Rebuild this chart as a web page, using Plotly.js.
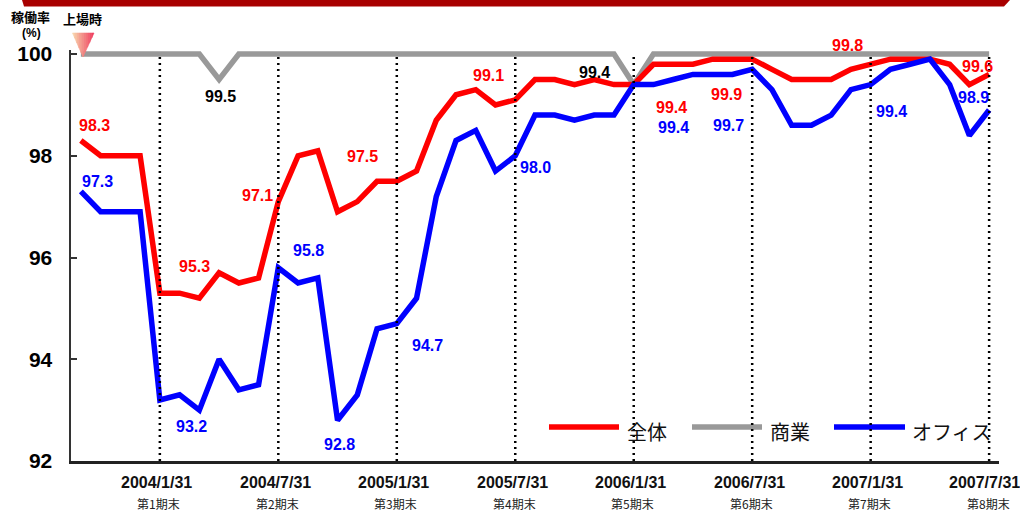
<!DOCTYPE html>
<html><head><meta charset="utf-8">
<script src="https://cdn.plot.ly/plotly-3.0.1.min.js"></script>
<style>html,body{margin:0;padding:0;background:#fff;} #chart{width:1020px;height:512px;}</style>
</head><body><div id="chart"></div>
<script>
// ---------- data ----------
const seriesNames = ['全体', '商業', 'オフィス'];
const totalRate = [98.3, 98.0, 98.0, 98.0, 95.3, 95.3, 95.2, 95.7, 95.5, 95.6,
  97.1, 98.0, 98.1, 96.9, 97.1, 97.5, 97.5, 97.7, 98.7, 99.2,
  99.3, 99.0, 99.1, 99.5, 99.5, 99.4, 99.5, 99.4, 99.4, 99.8,
  99.8, 99.8, 99.9, 99.9, 99.9, 99.7, 99.5, 99.5, 99.5, 99.7,
  99.8, 99.9, 99.9, 99.9, 99.8, 99.4, 99.6];
const retailRate = [100, 100, 100, 100, 100, 100, 100, 99.5, 100, 100,
  100, 100, 100, 100, 100, 100, 100, 100, 100, 100,
  100, 100, 100, 100, 100, 100, 100, 100, 99.4, 100,
  100, 100, 100, 100, 100, 100, 100, 100, 100, 100,
  100, 100, 100, 100, 100, 100, 100];
const officeRate = [97.3, 96.9, 96.9, 96.9, 93.2, 93.3, 93.0, 94.0, 93.4, 93.5,
  95.8, 95.5, 95.6, 92.8, 93.3, 94.6, 94.7, 95.2, 97.2, 98.3,
  98.5, 97.7, 98.0, 98.8, 98.8, 98.7, 98.8, 98.8, 99.4, 99.4,
  99.5, 99.6, 99.6, 99.6, 99.7, 99.3, 98.6, 98.6, 98.8, 99.3,
  99.4, 99.7, 99.8, 99.9, 99.4, 98.4, 98.9];
const monthIndex = totalRate.map((_, i) => i);
const periodTickIndex = [4, 10, 16, 22, 28, 34, 40, 46];
const periodDates = ['2004/1/31', '2004/7/31', '2005/1/31', '2005/7/31', '2006/1/31', '2006/7/31', '2007/1/31', '2007/7/31'];
const periodNames = ['第1期末', '第2期末', '第3期末', '第4期末', '第5期末', '第6期末', '第7期末', '第8期末'];
const yTicks = [92, 94, 96, 98, 100];
const totalLabelIdx = [0, 4, 10, 16, 22, 28, 34, 40, 46];
const retailLabelIdx = [7, 28];
const officeLabelIdx = [0, 4, 10, 13, 16, 22, 28, 34, 40, 46];

// ---------- styles / positions ----------
const colors = {total: '#ff0000', retail: '#999999', office: '#0000ff'};
const labelColors = {total: '#ff0000', retail: '#000000', office: '#0000ff'};
const labelOffsets = {
  total: {0: [14, 15], 4: [35, 27], 10: [-21, 6], 16: [-34, 25], 22: [-27, 24], 28: [38, -23], 34: [-26, -35], 40: [-23, 19], 46: [-12, 8]},
  retail: {7: [1, -17], 28: [-39, 12]},
  office: {0: [17, 10], 4: [32, -27], 10: [30, 17], 13: [2, -24], 16: [31, -22], 22: [20, -12], 28: [40, -43], 34: [-24, -56], 40: [21, -27], 46: [-16, 13]}
};
const M = {l: 71, r: 21, t: 50, b: 51};
const W = 1020, H = 512;
const PW = W - M.l - M.r, PH = H - M.t - M.b;
const px = x => (x - M.l) / PW;
const py = y => 1 - (y - M.t) / PH;
const latin = '"Liberation Sans", Arial, sans-serif';
const cjk = '"Noto Sans CJK JP", "Noto Sans", sans-serif';

const lineTrace = (y, name, color) => ({
  type: 'scatter', mode: 'lines', x: monthIndex, y: y, name: name,
  line: {color: color, width: 5.5}, hoverinfo: 'skip', showlegend: false, cliponaxis: false
});
const traces = [
  lineTrace(retailRate, seriesNames[1], colors.retail),
  lineTrace(totalRate, seriesNames[0], colors.total),
  lineTrace(officeRate, seriesNames[2], colors.office)
];

const annotations = [];
function addLabels(key, data, idxs) {
  idxs.forEach(i => {
    const o = labelOffsets[key][i] || [0, 0];
    annotations.push({x: i, y: data[i], xref: 'x', yref: 'y', text: data[i].toFixed(1), showarrow: false,
      xanchor: 'center', yanchor: 'middle', xshift: o[0], yshift: o[1],
      font: {family: latin, size: 16, weight: 'bold', color: labelColors[key]}});
  });
}
addLabels('total', totalRate, totalLabelIdx);
addLabels('retail', retailRate, retailLabelIdx);
addLabels('office', officeRate, officeLabelIdx);

// date and period labels under the axis
periodTickIndex.forEach((t, k) => {
  const last = k === periodTickIndex.length - 1;
  annotations.push({x: t, y: 0, xref: 'x', yref: 'paper', yshift: -21, xshift: last ? -5 : -3, text: periodDates[k], showarrow: false,
    xanchor: 'center', yanchor: 'middle', font: {family: latin, size: 16, weight: 'bold', color: '#111'}});
  annotations.push({x: t, y: 0, xref: 'x', yref: 'paper', yshift: -42, xshift: -1, text: periodNames[k], showarrow: false,
    xanchor: 'center', yanchor: 'middle', font: {family: cjk, size: 12, color: '#222'}});
});
// axis captions
annotations.push({x: px(30), y: py(17), xref: 'paper', yref: 'paper', text: '<b>稼働率</b>', showarrow: false,
  xanchor: 'center', yanchor: 'middle', font: {family: cjk, size: 13, color: '#000'}});
annotations.push({x: px(31), y: py(33), xref: 'paper', yref: 'paper', text: '<b>(%)</b>', showarrow: false,
  xanchor: 'center', yanchor: 'middle', font: {family: latin, size: 12, color: '#000'}});
annotations.push({x: px(82.5), y: py(19), xref: 'paper', yref: 'paper', text: '<b>上場時</b>', showarrow: false,
  xanchor: 'center', yanchor: 'middle', font: {family: cjk, size: 13, color: '#000'}});

// legend (custom, long line samples)
const legendItems = [
  {name: seriesNames[0], color: colors.total, x0: 549, x1: 619, tx: 625},
  {name: seriesNames[1], color: colors.retail, x0: 692, x1: 762, tx: 768},
  {name: seriesNames[2], color: colors.office, x0: 834, x1: 905, tx: 910}
];
const shapes = [];
// top banner
shapes.push({type: 'path', xref: 'paper', yref: 'paper', layer: 'above',
  path: `M ${px(22)} ${py(0)} L ${px(1010)} ${py(0)} L ${px(1004)} ${py(6.5)} L ${px(24)} ${py(6.5)} Z`,
  fillcolor: '#a80000', line: {width: 0}});
legendItems.forEach(it => {
  shapes.push({type: 'line', xref: 'paper', yref: 'paper', layer: 'above', x0: px(it.x0), x1: px(it.x1), y0: py(427), y1: py(427),
    line: {color: it.color, width: 5.5}});
  annotations.push({x: px(it.tx), y: py(431), xref: 'paper', yref: 'paper', text: it.name, showarrow: false,
    xanchor: 'left', yanchor: 'middle', font: {family: cjk, size: 20, color: '#111'}});
});
// dotted period lines
periodTickIndex.forEach(t => {
  shapes.push({type: 'line', xref: 'x', yref: 'y', layer: 'above', x0: t, x1: t, y0: 92, y1: 100,
    line: {color: '#000', width: 2.5, dash: '2px,4px'}});
});
// listing marker (gradient triangle)
(function () {
  const L = 72.5, R = 94, T = 33, tipX = 83, tipY = 57, N = 10;
  const c0 = [248, 220, 176], c1 = [239, 58, 92];
  const edgeY = x => x <= tipX ? T + (tipY - T) * (x - L) / (tipX - L) : T + (tipY - T) * (R - x) / (R - tipX);
  for (let k = 0; k < N; k++) {
    const a = L + (R - L) * k / N, b = L + (R - L) * (k + 1) / N;
    const f = (k + 0.5) / N;
    const c = c0.map((v, j) => Math.round(v + (c1[j] - v) * f));
    let path = `M ${px(a)} ${py(T)} L ${px(b)} ${py(T)} L ${px(b)} ${py(edgeY(b))}`;
    if (a < tipX && b > tipX) path += ` L ${px(tipX)} ${py(tipY)}`;
    path += ` L ${px(a)} ${py(edgeY(a))} Z`;
    shapes.push({type: 'path', xref: 'paper', yref: 'paper', layer: 'above', path: path,
      fillcolor: `rgb(${c.join(',')})`, line: {width: 0.6, color: `rgb(${c.join(',')})`}});
  }
})();

const layout = {
  width: W, height: H, margin: M, paper_bgcolor: '#fff', plot_bgcolor: '#fff', showlegend: false,
  xaxis: {range: [-0.5, 46.5], tickvals: periodTickIndex, showticklabels: false, showgrid: false, zeroline: false,
    showline: true, linecolor: '#222', linewidth: 2.5, ticks: ''},
  yaxis: {range: [92, 100.08], tickvals: yTicks, ticktext: yTicks.map(String), showgrid: false, zeroline: false,
    showline: true, linecolor: '#333', linewidth: 2.5, ticks: 'inside', ticklen: 6, tickwidth: 2, tickcolor: '#333',
    ticklabelstandoff: 12, tickfont: {family: latin, size: 21, weight: 'bold', color: '#000'}},
  shapes: shapes, annotations: annotations
};
Plotly.newPlot('chart', traces, layout, {displayModeBar: false, staticPlot: true});
</script></body></html>
